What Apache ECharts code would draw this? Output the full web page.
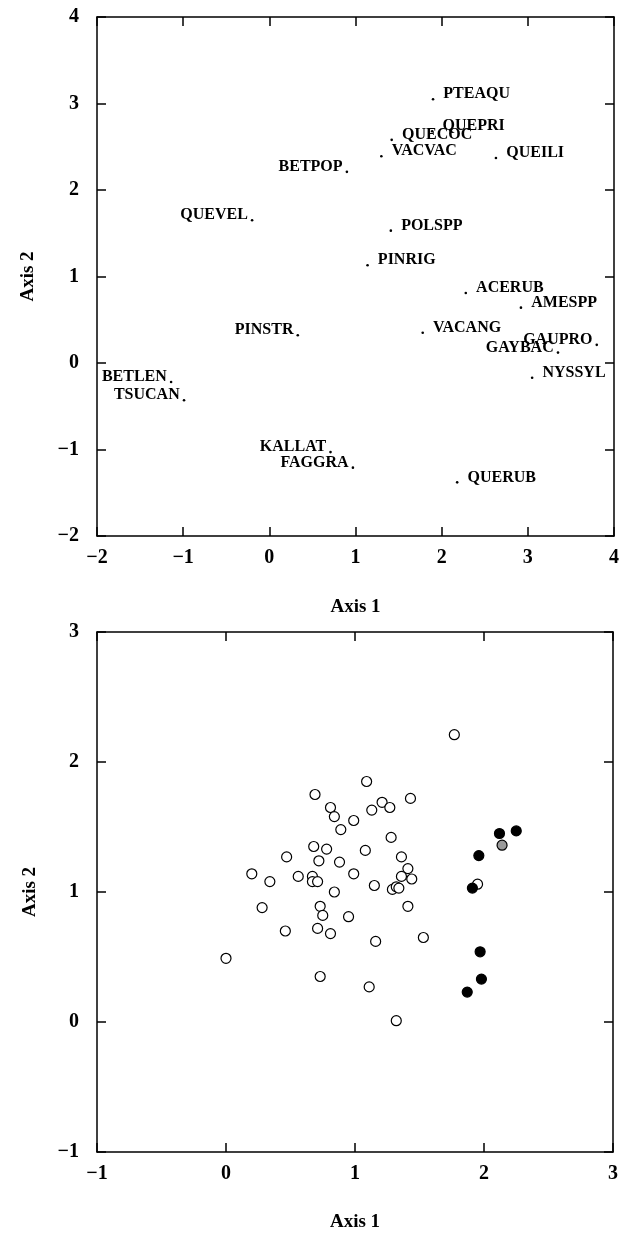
<!DOCTYPE html>
<html>
<head>
<meta charset="utf-8">
<script src="https://cdn.jsdelivr.net/npm/echarts@6/dist/echarts.min.js"></script>
<style>html,body{margin:0;padding:0;background:#fff}#c{width:623px;height:1233px}</style>
</head>
<body>
<div id="c"></div>
<script>
// ---- Top plot: species scores ----
const speciesNames = ['PTEAQU','QUEPRI','QUECOC','VACVAC','QUEILI','BETPOP','QUEVEL','POLSPP','PINRIG','ACERUB','AMESPP','VACANG','GAUPRO','GAYBAC','PINSTR','NYSSYL','BETLEN','TSUCAN','KALLAT','FAGGRA','QUERUB'];
const speciesAxis1 = [1.90, 1.89, 1.42, 1.30, 2.63, 0.90, -0.20, 1.41, 1.14, 2.28, 2.92, 1.78, 3.80, 3.35, 0.33, 3.05, -1.14, -0.99, 0.71, 0.97, 2.18];
const speciesAxis2 = [3.05, 2.68, 2.58, 2.39, 2.37, 2.21, 1.65, 1.53, 1.13, 0.81, 0.64, 0.35, 0.21, 0.12, 0.32, -0.17, -0.22, -0.43, -1.03, -1.21, -1.38];

// ---- Bottom plot: site scores ----
const openAxis1 = [1.77,1.09,0.69,1.43,1.21,0.81,1.27,1.13,0.84,0.99,0.89,1.28,0.68,0.78,1.08,0.47,1.36,0.72,0.88,1.41,0.20,0.99,0.56,0.67,1.36,1.44,0.34,0.67,0.71,1.15,1.29,1.32,1.34,1.95,0.84,0.28,0.73,1.41,0.75,0.95,0.46,0.71,0.81,1.16,1.53,0.00,0.73,1.11,1.32];
const openAxis2 = [2.21,1.85,1.75,1.72,1.69,1.65,1.65,1.63,1.58,1.55,1.48,1.42,1.35,1.33,1.32,1.27,1.27,1.24,1.23,1.18,1.14,1.14,1.12,1.12,1.12,1.10,1.08,1.08,1.08,1.05,1.02,1.04,1.03,1.06,1.00,0.88,0.89,0.89,0.82,0.81,0.70,0.72,0.68,0.62,0.65,0.49,0.35,0.27,0.01];
const filledAxis1 = [2.12, 2.25, 1.96, 1.91, 1.97, 1.98, 1.87];
const filledAxis2 = [1.45, 1.47, 1.28, 1.03, 0.54, 0.33, 0.23];
const grayAxis1 = [2.14];
const grayAxis2 = [1.36];

// ---- styling (not data) ----
const leftLabelled = new Set(['BETPOP','QUEVEL','PINSTR','BETLEN','TSUCAN','KALLAT','FAGGRA','GAUPRO','GAYBAC']);
const FONT = 'Liberation Serif, Times New Roman, serif';
const INK = '#000';
const minus = v => String(v).replace('-', '\u2212');

function mainX(grid, min, max, gap) {
  return {
    type: 'value', gridIndex: grid, position: 'bottom', min: min, max: max, interval: 1,
    name: 'Axis 1', nameLocation: 'middle', nameGap: gap,
    nameTextStyle: {fontFamily: FONT, fontWeight: 'bold', fontSize: 19, color: INK},
    axisLine: {show: true, onZero: false, lineStyle: {color: INK, width: 1.5}},
    axisTick: {show: true, inside: true, length: 9, lineStyle: {color: INK, width: 1.5}},
    axisLabel: {show: true, margin: 12, fontFamily: FONT, fontWeight: 'bold', fontSize: 20, color: INK, formatter: minus},
    splitLine: {show: false}
  };
}
function mirrorX(grid, min, max) {
  return {
    type: 'value', gridIndex: grid, position: 'top', min: min, max: max, interval: 1,
    axisLine: {show: true, onZero: false, lineStyle: {color: INK, width: 1.5}},
    axisTick: {show: true, inside: true, length: 9, lineStyle: {color: INK, width: 1.5}},
    axisLabel: {show: false}, splitLine: {show: false}
  };
}
function mainY(grid, min, max, gap) {
  return {
    type: 'value', gridIndex: grid, position: 'left', min: min, max: max, interval: 1,
    name: 'Axis 2', nameLocation: 'middle', nameGap: gap, nameRotate: 90,
    nameTextStyle: {fontFamily: FONT, fontWeight: 'bold', fontSize: 19, color: INK},
    axisLine: {show: true, onZero: false, lineStyle: {color: INK, width: 1.5}},
    axisTick: {show: true, inside: true, length: 9, lineStyle: {color: INK, width: 1.5}},
    axisLabel: {show: true, margin: 18, fontFamily: FONT, fontWeight: 'bold', fontSize: 20, color: INK, formatter: minus},
    splitLine: {show: false}
  };
}
function mirrorY(grid, min, max) {
  return {
    type: 'value', gridIndex: grid, position: 'right', min: min, max: max, interval: 1,
    axisLine: {show: true, onZero: false, lineStyle: {color: INK, width: 1.5}},
    axisTick: {show: true, inside: true, length: 9, lineStyle: {color: INK, width: 1.5}},
    axisLabel: {show: false}, splitLine: {show: false}
  };
}

const speciesData = speciesNames.map((n, i) => {
  const left = leftLabelled.has(n);
  return {
    name: n, value: [speciesAxis1[i], speciesAxis2[i]],
    label: {position: left ? 'left' : 'right', distance: left ? 3 : 9}
  };
});

const chart = echarts.init(document.getElementById('c'), null, {renderer: 'canvas'});
chart.setOption({
  animation: false,
  backgroundColor: '#fff',
  grid: [
    {left: 97, top: 17, width: 517, height: 519},
    {left: 97, top: 632, width: 516, height: 520}
  ],
  xAxis: [mainX(0, -2, 4, 62), mirrorX(0, -2, 4), mainX(1, -1, 3, 61), mirrorX(1, -1, 3)],
  yAxis: [mainY(0, -2, 4, 59), mirrorY(0, -2, 4), mainY(1, -1, 3, 57), mirrorY(1, -1, 3)],
  series: [
    {
      type: 'scatter', xAxisIndex: 0, yAxisIndex: 0, symbol: 'circle', symbolSize: 2.6,
      itemStyle: {color: INK, opacity: 1},
      label: {show: true, formatter: '{b}', offset: [0, -5], fontFamily: FONT, fontWeight: 'bold', fontSize: 16, color: INK, opacity: 1},
      data: speciesData
    },
    {
      type: 'scatter', xAxisIndex: 2, yAxisIndex: 2, symbol: 'circle', symbolSize: 10,
      itemStyle: {color: '#fff', borderColor: INK, borderWidth: 1.2, opacity: 1},
      data: openAxis1.map((x, i) => [x, openAxis2[i]])
    },
    {
      type: 'scatter', xAxisIndex: 2, yAxisIndex: 2, symbol: 'circle', symbolSize: 10,
      itemStyle: {color: '#000', borderColor: '#000', borderWidth: 1.2, opacity: 1},
      data: filledAxis1.map((x, i) => [x, filledAxis2[i]])
    },
    {
      type: 'scatter', xAxisIndex: 2, yAxisIndex: 2, symbol: 'circle', symbolSize: 10,
      itemStyle: {color: '#9a9a9a', borderColor: INK, borderWidth: 1.2, opacity: 1},
      data: grayAxis1.map((x, i) => [x, grayAxis2[i]])
    }
  ]
});
</script>
</body>
</html>
